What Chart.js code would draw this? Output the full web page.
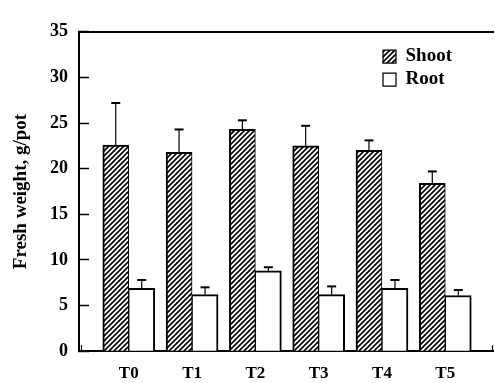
<!DOCTYPE html>
<html>
<head>
<meta charset="utf-8">
<script src="https://cdn.jsdelivr.net/npm/chart.js@4"></script>
<style>
  body { margin: 0; background: #fff; }
</style>
</head>
<body>
<canvas id="myChart" width="495" height="383"></canvas>
<script>
// data
const treatments = ['T0', 'T1', 'T2', 'T3', 'T4', 'T5'];
const shoot = [22.6, 21.8, 24.3, 22.5, 22.0, 18.4];
const shootErr = [4.6, 2.5, 1.0, 2.2, 1.1, 1.3];
const root = [6.9, 6.2, 8.8, 6.2, 6.9, 6.1];
const rootErr = [0.9, 0.8, 0.4, 0.9, 0.9, 0.6];
const yTicks = [0, 5, 10, 15, 20, 25, 30, 35];

const serif = "'Liberation Serif', 'Times New Roman', serif";

// hatch pattern for the shoot bars
function makeHatch() {
  const size = 5;
  const c = document.createElement('canvas');
  c.width = size; c.height = size;
  const g = c.getContext('2d');
  g.fillStyle = '#fff';
  g.fillRect(0, 0, size, size);
  g.strokeStyle = '#000';
  g.lineWidth = 1.7;
  g.beginPath();
  g.moveTo(0, size); g.lineTo(size, 0);
  g.moveTo(-size, size); g.lineTo(size, -size);
  g.moveTo(0, 2 * size); g.lineTo(2 * size, 0);
  g.stroke();
  return g.createPattern(c, 'repeat');
}
const hatch = makeHatch();

const toPoints = arr => arr.map((v, i) => ({ x: i, y: v }));

// upward error bars with caps
const errorBars = {
  id: 'errorBars',
  afterDatasetsDraw(chart) {
    const ctx = chart.ctx;
    const yScale = chart.scales.y;
    const errs = [shootErr, rootErr];
    chart.data.datasets.forEach((ds, i) => {
      const meta = chart.getDatasetMeta(i);
      meta.data.forEach((bar, j) => {
        const top = yScale.getPixelForValue(ds.data[j].y + errs[i][j]);
        ctx.save();
        ctx.strokeStyle = '#000';
        ctx.lineWidth = 1.2;
        ctx.beginPath();
        ctx.moveTo(bar.x, bar.y);
        ctx.lineTo(bar.x, top);
        ctx.stroke();
        ctx.lineWidth = 2;
        ctx.beginPath();
        ctx.moveTo(bar.x - 4.5, top);
        ctx.lineTo(bar.x + 4.5, top);
        ctx.stroke();
        ctx.restore();
      });
    });
  }
};

// put the legend in the upper right of the plot
const legendSpot = {
  id: 'legendSpot',
  afterLayout(chart) {
    const lg = chart.legend;
    if (!lg) return;
    lg.left = 379;
    lg.top = 43;
    lg.right = lg.left + 110;
    lg.bottom = lg.top + 60;
    lg.width = 110;
    lg.height = 60;
  }
};

const isMidTick = ctx => ctx.tick && Number.isInteger(ctx.tick.value);

const config = {
  type: 'bar',
  data: {
    datasets: [
      {
        label: 'Shoot',
        data: toPoints(shoot),
        backgroundColor: hatch,
        borderColor: '#000',
        borderWidth: { top: 2, left: 2, right: 1, bottom: 0 },
        borderSkipped: false
      },
      {
        label: 'Root',
        data: toPoints(root),
        backgroundColor: '#fff',
        borderColor: '#000',
        borderWidth: { top: 2, left: 1, right: 2, bottom: 0 },
        borderSkipped: false
      }
    ]
  },
  options: {
    responsive: false,
    devicePixelRatio: 1,
    animation: false,
    barThickness: 26,
    layout: { padding: { top: 21, left: 0, right: 0, bottom: 0 } },
    plugins: {
      legend: {
        position: 'chartArea',
        align: 'start',
        labels: {
          color: '#000',
          boxWidth: 13,
          boxHeight: 13,
          padding: 4,
          font: { family: serif, size: 19, weight: 'bold' }
        }
      },
      tooltip: { enabled: false }
    },
    scales: {
      x: {
        type: 'linear',
        position: 'bottom',
        min: -0.786,
        max: 5.76,
        offset: false,
        afterBuildTicks(scale) {
          const t = [];
          for (let i = 0; i < treatments.length; i++) {
            t.push({ value: i - 0.5 });
            t.push({ value: i });
          }
          t.push({ value: treatments.length - 0.5 });
          scale.ticks = t;
        },
        afterFit(scale) { scale.height = 27; },
        ticks: {
          autoSkip: false,
          maxRotation: 0,
          padding: 18,
          color: '#000',
          font: { family: serif, size: 17, weight: 'bold' },
          callback: v => Number.isInteger(v) ? treatments[v] : ''
        },
        grid: {
          drawOnChartArea: false,
          tickLength: -6,
          tickWidth: 1.2,
          tickColor: ctx => isMidTick(ctx) ? 'rgba(0,0,0,0)' : '#000'
        },
        border: { display: true, color: '#000', width: 2 }
      },
      x2: {
        type: 'linear',
        position: 'top',
        min: -0.786,
        max: 5.76,
        afterFit(scale) { scale.height = 0; },
        ticks: { display: false },
        grid: { display: false },
        border: { display: true, color: '#000', width: 2 }
      },
      y: {
        min: 0,
        max: 35,
        afterBuildTicks(scale) {
          scale.ticks = yTicks.map(v => ({ value: v }));
        },
        afterFit(scale) { scale.width = 79; },
        ticks: {
          padding: 21,
          color: '#000',
          font: { family: serif, size: 18, weight: 'bold' }
        },
        grid: {
          drawOnChartArea: false,
          tickLength: -10,
          tickWidth: 1.5,
          tickColor: '#000'
        },
        border: { display: true, color: '#000', width: 2 },
        title: {
          display: true,
          text: 'Fresh weight, g/pot',
          color: '#000',
          padding: { top: 10, bottom: 0 },
          font: { family: serif, size: 19, weight: 'bold' }
        }
      }
    }
  },
  plugins: [errorBars, legendSpot]
};

const myChart = new Chart(document.getElementById('myChart'), config);
</script>
</body>
</html>
